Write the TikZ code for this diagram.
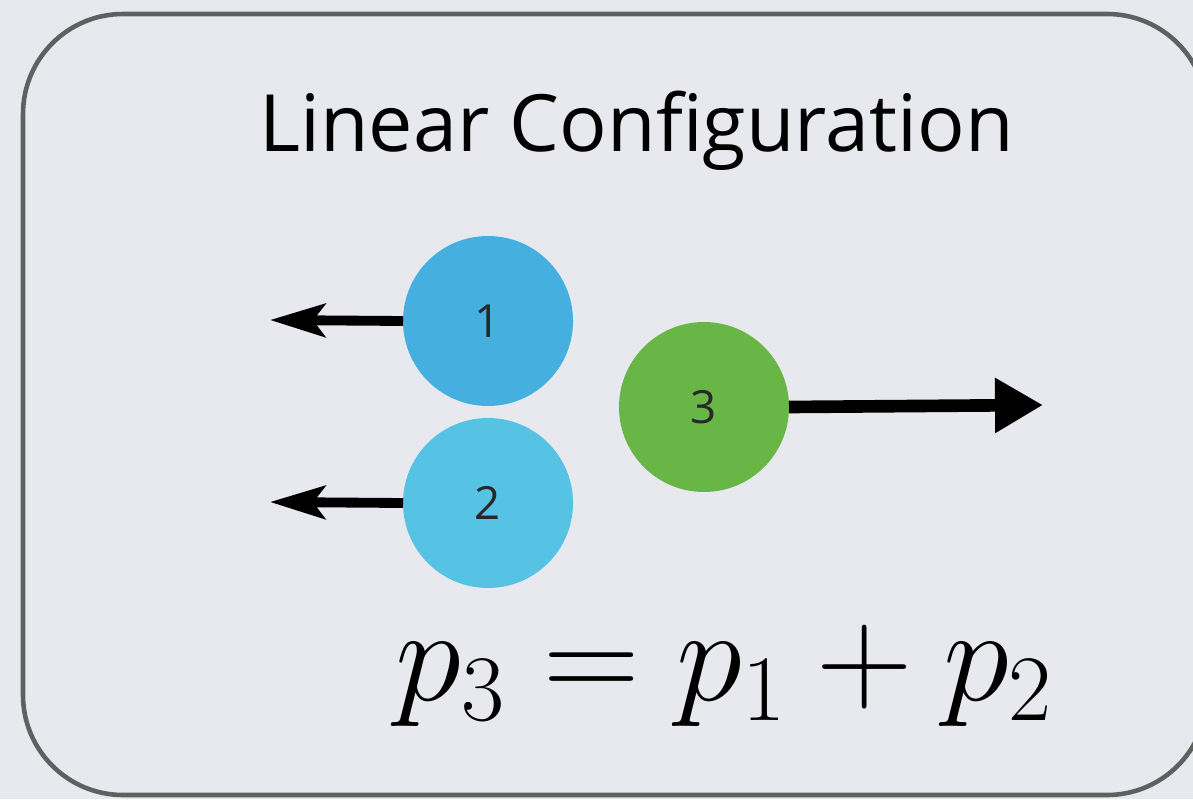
\RequirePackage{fix-cm}
\documentclass[tikz,border=0pt]{standalone}
\usepackage{fontspec}
\usetikzlibrary{arrows.meta}
\newfontfamily\titlefont{Open Sans}
\definecolor{backdrop}{RGB}{232,233,239}
\definecolor{frame}{RGB}{94,97,96}
\definecolor{ballone}{RGB}{69,176,224}
\definecolor{balltwo}{RGB}{86,194,228}
\definecolor{ballthree}{RGB}{104,182,70}
\definecolor{digit}{RGB}{40,40,40}

\begin{document}
\begin{tikzpicture}[ball/.style={circle, minimum size=1.700cm, inner sep=0pt, outer sep=0pt, text=digit, font=\titlefont\fontsize{13}{15}\selectfont}]
\useasboundingbox (0,0) rectangle (11.930,7.990);
\clip (0,0) rectangle (11.930,7.990);
\fill[backdrop] (0,0) rectangle (11.930,7.990);
\draw[frame, line width=1.3pt, rounded corners=1.000cm] (0.230,0.040) rectangle (12.070,7.850);
\node[anchor=base, font=\titlefont\fontsize{22.5}{26}\selectfont] (title) at (6.365,6.470) {Linear Configuration};
\node[ball, fill=ballone] (one) at (4.880,4.780) {1};
\node[ball, fill=balltwo] (two) at (4.880,2.960) {2};
\node[ball, fill=ballthree] (three) at (7.040,3.920) {3};
\coordinate (tipone) at (2.700,4.790);
\coordinate (tiptwo) at (2.700,2.970);
\coordinate (tipthree) at (10.430,3.940);
\draw[line width=2.8pt, -{Stealth[length=0.550cm, width=0.330cm, inset=0.120cm]}] (one.west) -- (tipone);
\draw[line width=2.8pt, -{Stealth[length=0.550cm, width=0.330cm, inset=0.120cm]}] (two.west) -- (tiptwo);
\draw[line width=3.6pt, -{Triangle[length=0.480cm, width=0.520cm]}] (three.east) -- (tipthree);
\node[anchor=base, font=\fontsize{38.1}{42}\selectfont] (law) at (7.245,0.990) {$p_3 = p_1 + p_2$};
\end{tikzpicture}
\end{document}
